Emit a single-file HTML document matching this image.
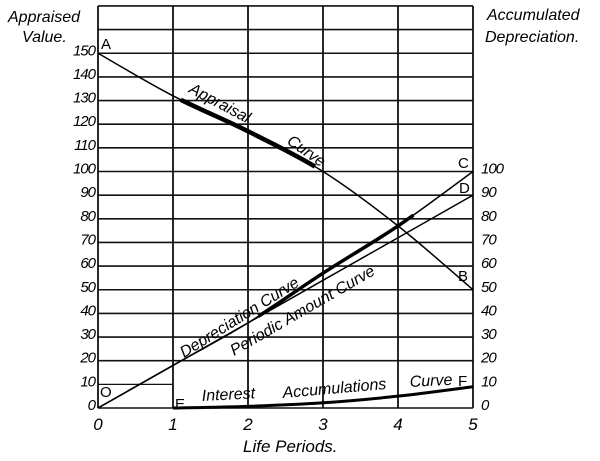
<!DOCTYPE html>
<html><head><meta charset="utf-8"><style>
html,body{margin:0;padding:0;background:#fff;}
svg{display:block;font-family:"Liberation Sans",sans-serif;font-style:italic;}
</style></head><body>
<svg id="chart" width="600" height="461" viewBox="0 0 600 461" xmlns="http://www.w3.org/2000/svg">
<g id="grid"></g>
<g id="series"></g>
<g id="labels"></g>
</svg>
<script>
const periods=[0,1,2,3,4,5];
const leftTicks=[0,10,20,30,40,50,60,70,80,90,100,110,120,130,140,150];
const rightTicks=[0,10,20,30,40,50,60,70,80,90,100];
const appraisal=[150,132,117,100,77,50];
const depreciation=[0,18,36,57,77,100];
const periodicAmount=[0,18,36,54,72,90];
const interestX=[1,2,3,4,5];
const interest=[0,0.7,2.2,5,9];

const NS="http://www.w3.org/2000/svg";
const X=p=>98+p*75;
const Y=v=>408-v*2.365;
function mk(tag,attrs,parent,text){const e=document.createElementNS(NS,tag);for(const k in attrs)e.setAttribute(k,attrs[k]);if(text!==undefined)e.textContent=text;parent.appendChild(e);return e;}
const grid=document.getElementById('grid'),ser=document.getElementById('series'),lab=document.getElementById('labels');

for(let v=0;v<=170;v+=10){
  if(v===10)continue;
  const l=mk('line',{x1:X(0),x2:X(5),y1:Y(v),y2:Y(v),stroke:'#111','stroke-width':1.6},grid);
  
  
}
{const l=mk('line',{x1:X(0),x2:X(1),y1:Y(10),y2:Y(10),stroke:'#111','stroke-width':1.2},grid);

}
periods.forEach(p=>{
  const l=mk('line',{x1:X(p),x2:X(p),y1:Y(170),y2:Y(0),stroke:'#111','stroke-width':1.8},grid);
  
  
  const t=mk('text',{x:X(p),y:430,'text-anchor':'middle','font-size':17},lab,String(p));
  
  
});
leftTicks.forEach(v=>{
  const t=mk('text',{x:95,y:Y(v)+2,'text-anchor':'end','font-size':15,'letter-spacing':'-1'},lab,String(v));
  
  
});
rightTicks.forEach(v=>{
  const t=mk('text',{x:481,y:Y(v)+2,'text-anchor':'start','font-size':15,'letter-spacing':'-1'},lab,String(v));
  
  
});

function smooth(xs,ys){
  const P=xs.map((x,i)=>[X(x),Y(ys[i])]);
  let d='M'+P[0][0]+','+P[0][1];
  for(let i=0;i<P.length-1;i++){
    const p0=P[i-1]||P[i],p1=P[i],p2=P[i+1],p3=P[i+2]||P[i+1];
    const c1=[p1[0]+(p2[0]-p0[0])/6,p1[1]+(p2[1]-p0[1])/6];
    const c2=[p2[0]-(p3[0]-p1[0])/6,p2[1]-(p3[1]-p1[1])/6];
    d+=` C${c1[0]},${c1[1]} ${c2[0]},${c2[1]} ${p2[0]},${p2[1]}`;
  }
  return d;
}
function pts(xs,ys){return xs.map((x,i)=>X(x)+','+Y(ys[i])).join(' ');}
let e;
e=mk('path',{d:smooth(periods,appraisal),fill:'none',stroke:'#000','stroke-width':1.5},ser);


e=mk('path',{d:smooth(periods,appraisal),fill:'none',stroke:'#000','stroke-width':4.5,'stroke-dasharray':'0 95 150 1000'},ser);


e=mk('polyline',{points:pts(periods,periodicAmount),fill:'none',stroke:'#000','stroke-width':1.5},ser);


e=mk('path',{d:smooth(periods,depreciation),fill:'none',stroke:'#000','stroke-width':1.5},ser);


e=mk('path',{d:smooth(periods,depreciation),fill:'none',stroke:'#000','stroke-width':3.5,'stroke-dasharray':'0 185 185 1000'},ser);


e=mk('path',{d:smooth(interestX,interest),fill:'none',stroke:'#000','stroke-width':3},ser);



function txt(x,y,s,fs,rot,name,style){
  const t=mk('text',{x:x,y:y,'font-size':fs,transform:rot?`rotate(${rot} ${x} ${y})`:''},lab,s);
  if(style==='upright')t.setAttribute('font-style','normal');
  
  
}
txt(8,22,'Appraised',16,0,'left-axis-title');
txt(22,42,'Value.',16,0,'left-axis-title-2');
txt(487,20,'Accumulated',16,0,'right-axis-title');
txt(485,42,'Depreciation.',16,0,'right-axis-title-2');
txt(243,452,'Life Periods.',17,0,'x-axis-title');
txt(101,49,'A',15,0,'point-a','upright');
txt(458,281,'B',15,0,'point-b','upright');
txt(458,168,'C',15,0,'point-c','upright');
txt(459,193,'D',15,0,'point-d','upright');
txt(100,397,'O',15,0,'point-o','upright');
txt(175,409,'E',15,0,'point-e','upright');
txt(458,386,'F',15,0,'point-f','upright');
txt(188,92,'Appraisal',16,28,'appraisal-label');
txt(286,143,'Curve',16,35,'appraisal-label-2');
txt(184,358,'Depreciation  Curve',16,-32,'depreciation-label');
txt(234,356,'Periodic Amount Curve',16,-30,'periodic-amount-label');
txt(202,401,'Interest',16,-3,'interest-label');
txt(283,398,'Accumulations',16,-5,'interest-label-2');
txt(410,387,'Curve',16,-3,'interest-label-3');
</script>
</body></html>
